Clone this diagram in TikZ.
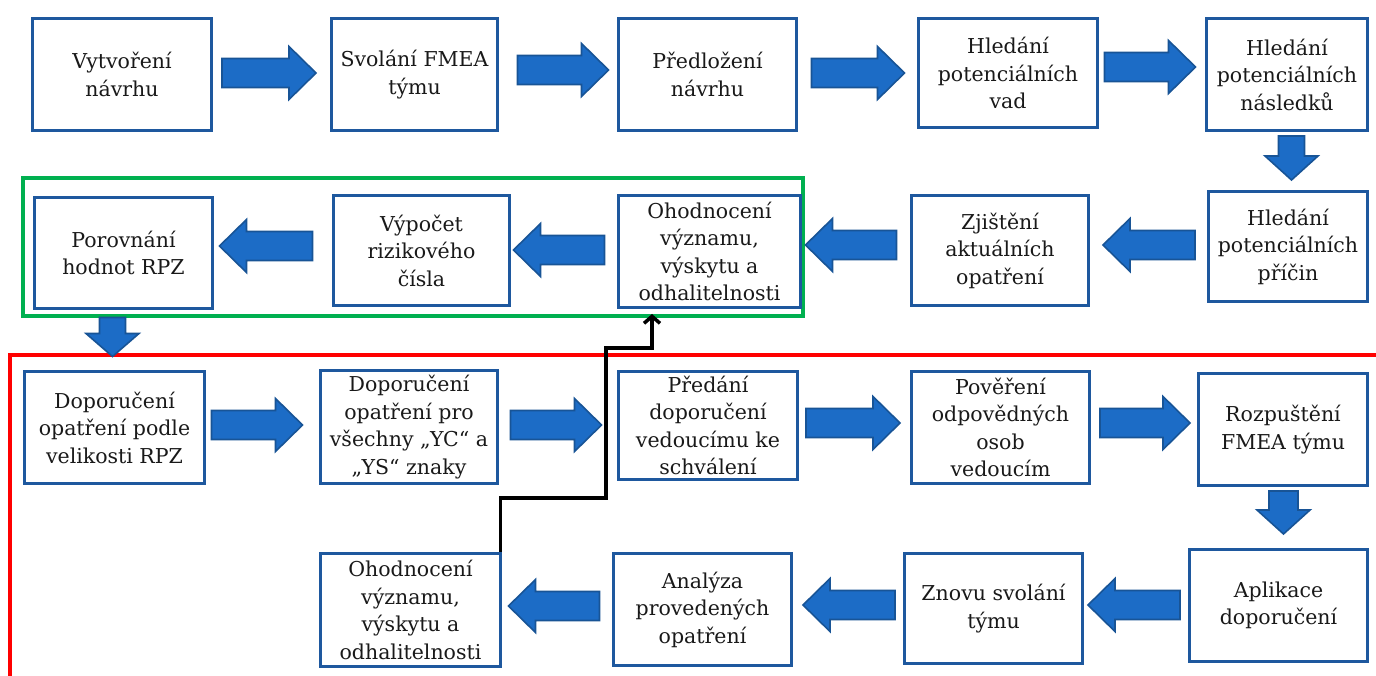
\documentclass[tikz,border=0pt]{standalone}
\usepackage{fontspec}
\setmainfont{DejaVu Serif}
\usetikzlibrary{arrows.meta,calc}
\definecolor{boxblue}{RGB}{30,88,158}
\definecolor{arrfill}{RGB}{28,108,198}
\definecolor{arredge}{RGB}{24,84,150}
\definecolor{grn}{RGB}{0,176,80}
\definecolor{rd}{RGB}{255,0,0}
\tikzset{
  stepbox/.style={draw=boxblue, line width=3pt, fill=white, align=center,
    inner sep=1pt, anchor=north west, font=\fontsize{20.5}{27.5}\selectfont, text=black!90},
  barrow/.style={fill=arrfill, draw=arredge, line width=1.6pt, line join=miter},
  frame/.style={line width=3.2pt},
}
\newcommand\bigarrowdraw[6]{% cx, cy, angle, length, shaft half, head len
  \begin{scope}[shift={(#1,#2)}, rotate=#3]
    \draw[barrow] (-#4/2,-#5) -- (#4/2-#6,-#5) -- (#4/2-#6,-26.5) -- (#4/2,0)
      -- (#4/2-#6,26.5) -- (#4/2-#6,#5) -- (-#4/2,#5) -- cycle;
  \end{scope}}
\begin{document}
\begin{tikzpicture}[x=1pt,y=-1pt]
\useasboundingbox[fill=white] (0,0) rectangle (1376,676);
% frames
\draw[frame, draw=grn] (23,178) rectangle (803,316);
\draw[frame, draw=rd] (10,680) -- (10,355) -- (1380,355);
% row 1
\node[stepbox, minimum width=179pt, minimum height=112pt] (b1) at (31,17) {Vytvoření\\návrhu};
\node[stepbox, minimum width=166pt, minimum height=112pt] (b2) at (330,17) {Svolání FMEA\\týmu};
\node[stepbox, minimum width=178pt, minimum height=112pt] (b3) at (617,17) {Předložení\\návrhu};
\node[stepbox, minimum width=179pt, minimum height=109pt] (b4) at (917,17) {Hledání\\potenciálních\\vad};
\node[stepbox, minimum width=161pt, minimum height=112pt] (b5) at (1205,17) {Hledání\\potenciálních\\následků};
% row 2
\node[stepbox, minimum width=159pt, minimum height=110pt] (b6) at (1207,190) {Hledání\\potenciálních\\příčin};
\node[stepbox, minimum width=177pt, minimum height=110pt] (b7) at (910,194) {Zjištění\\aktuálních\\opatření};
\node[stepbox, minimum width=182pt, minimum height=112pt, inner sep=0pt] (b8) at (617,194) {Ohodnocení\\významu,\\výskytu a\\odhalitelnosti};
\node[stepbox, minimum width=176pt, minimum height=110pt] (b9) at (332,194) {Výpočet\\rizikového\\čísla};
\node[stepbox, minimum width=178pt, minimum height=111pt] (b10) at (33,196) {Porovnání\\hodnot RPZ};
% row 3
\node[stepbox, minimum width=180pt, minimum height=112pt] (b11) at (23,370) {Doporučení\\opatření podle\\velikosti RPZ};
\node[stepbox, minimum width=177pt, minimum height=113pt, inner sep=0pt] (b12) at (319,369) {Doporučení\\opatření pro\\všechny „YC“ a\\„YS“ znaky};
\node[stepbox, minimum width=179pt, minimum height=108pt, inner sep=0pt] (b13) at (617,370) {Předání\\doporučení\\vedoucímu ke\\schválení};
\node[stepbox, minimum width=178pt, minimum height=112pt, inner sep=0pt] (b14) at (910,370) {Pověření\\odpovědných\\osob\\vedoucím};
\node[stepbox, minimum width=169pt, minimum height=112pt] (b15) at (1197,372) {Rozpuštění\\FMEA týmu};
% row 4
\node[stepbox, minimum width=178pt, minimum height=112pt] (b16) at (1188,548) {Aplikace\\doporučení};
\node[stepbox, minimum width=178pt, minimum height=110pt] (b17) at (903,552) {Znovu svolání\\týmu};
\node[stepbox, minimum width=178pt, minimum height=112pt] (b18) at (612,552) {Analýza\\provedených\\opatření};
\node[stepbox, minimum width=180pt, minimum height=113pt, inner sep=0pt] (b19) at (319,552) {Ohodnocení\\významu,\\výskytu a\\odhalitelnosti};
% block arrows row 1
\bigarrowdraw{269}{73}{0}{94}{14.5}{27}
\bigarrowdraw{563}{70}{0}{91}{14.5}{27}
\bigarrowdraw{858}{73}{0}{93}{14.5}{27}
\bigarrowdraw{1150}{67}{0}{91}{14.5}{27}
\bigarrowdraw{1291.5}{158}{-90}{44}{13}{24}
% row 2
\bigarrowdraw{1149}{245}{180}{92}{14.5}{27}
\bigarrowdraw{851}{245}{180}{91}{14.5}{27}
\bigarrowdraw{559}{250}{180}{91}{14.5}{27}
\bigarrowdraw{266}{246}{180}{93}{14.5}{27}
\bigarrowdraw{112.5}{337}{-90}{39}{13}{23}
% row 3
\bigarrowdraw{257}{425}{0}{91}{14.5}{27}
\bigarrowdraw{556}{425}{0}{91}{14.5}{27}
\bigarrowdraw{853}{423}{0}{94}{14.5}{27}
\bigarrowdraw{1145}{423}{0}{90}{14.5}{27}
\bigarrowdraw{1283.5}{512.5}{-90}{43}{14.5}{24}
% row 4
\bigarrowdraw{1134}{605}{180}{92}{14.5}{27}
\bigarrowdraw{849}{605}{180}{92}{14.5}{27}
\bigarrowdraw{554}{606}{180}{91}{14.5}{27}
% feedback connector
\coordinate (fbend) at (652,314);
\draw[line width=3.5pt, -{Straight Barb[length=7pt,width=16pt,line width=3.5pt]}]
  ($(b19.north east)+(-1.5,0)$) -- ++(0,-54) -| (606,348) -| (fbend);
\end{tikzpicture}
\end{document}
